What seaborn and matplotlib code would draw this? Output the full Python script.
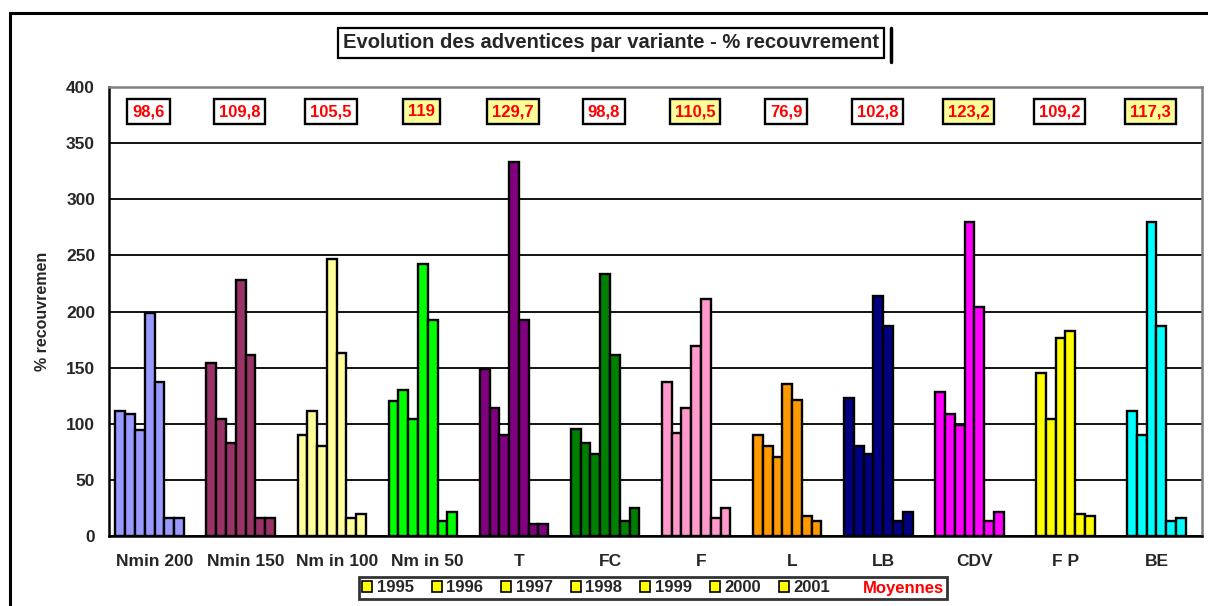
import matplotlib
matplotlib.use("Agg")
import matplotlib.pyplot as plt
import numpy as np
import pandas as pd
import seaborn as sns
from matplotlib.patches import Patch, Rectangle
from matplotlib.lines import Line2D

variantes = ["Nmin 200", "Nmin 150", "Nm in 100", "Nm in 50", "T", "FC",
             "F", "L", "LB", "CDV", "F P", "BE"]
annees = ["1995", "1996", "1997", "1998", "1999", "2000", "2001"]

# % recouvrement par variante, une liste par annee (nan = pas de mesure)
v1995 = [111, 154, 90, 120, 149, 95, 137, 90, 123, 128, np.nan, np.nan]
v1996 = [109, 104, 111, 130, 114, 83, 92, 80, 80, 109, 145, 111]
v1997 = [94, 83, 80, 104, 90, 73, 114, 70, 73, 99, 104, 90]
v1998 = [199, 228, 247, 242, 333, 233, 169, 135, 214, 280, 176, 280]
v1999 = [137, 161, 163, 192, 192, 161, 211, 121, 187, 204, 183, 187]
v2000 = [16, 16, 16, 13, 11, 13, 16, 18, 13, 13, 20, 13]
v2001 = [16, 16, 20, 21, 11, 25, 25, 13, 21, 21, 18, 16]

moyennes = ["98,6", "109,8", "105,5", "119", "129,7", "98,8",
            "110,5", "76,9", "102,8", "123,2", "109,2", "117,3"]
moy_surlignee = [False, False, False, True, True, False,
                 True, False, False, True, False, True]

couleurs = ["#9999FF", "#993366", "#FFFF99", "#00FF00", "#800080", "#008000",
            "#FF99CC", "#FF9900", "#000080", "#FF00FF", "#FFFF00", "#00FFFF"]

series = [v1995, v1996, v1997, v1998, v1999, v2000, v2001]
rows = []
for an, vals in zip(annees, series):
    for var, v in zip(variantes, vals):
        if not np.isnan(v):
            rows.append({"variante": var, "annee": an, "val": v})
df = pd.DataFrame(rows)

sns.set_style("white")
plt.rcParams["font.family"] = ["Liberation Sans", "DejaVu Sans"]
plt.rcParams["font.weight"] = "bold"

fig = plt.figure(figsize=(12.08, 6.06), dpi=100)
ax = fig.add_axes([109 / 1208, 1 - 536 / 606, 1093 / 1208, 449 / 606])

hue_order = annees + ["Moyennes"]  # slot vide pour la serie des moyennes
sns.barplot(data=df, x="variante", y="val", hue="annee", order=variantes,
            hue_order=hue_order, palette=["#cccccc"] * 8, width=0.86,
            errorbar=None, edgecolor="black", linewidth=1.7, legend=False,
            ax=ax)

for p in ax.patches:
    idx = int(round(p.get_x() + p.get_width() / 2))
    p.set_facecolor(couleurs[idx])

ax.set_xlim(-0.5, 11.5)
ax.set_ylim(0, 400)
ax.set_yticks(range(0, 401, 50))
ax.yaxis.grid(True, color="black", lw=1.3)
ax.set_axisbelow(True)

for s in ["left", "bottom"]:
    ax.spines[s].set_color("black")
    ax.spines[s].set_linewidth(1.8)
for s in ["top", "right"]:
    ax.spines[s].set_color("#808080")
    ax.spines[s].set_linewidth(1.8)

ax.set_xticks(range(12))
ax.set_xticklabels(variantes, fontsize=12.5, fontweight="bold")
ax.set_xticks(np.arange(-0.5, 12, 1), minor=True)
ax.tick_params(axis="x", which="major", length=0, pad=13)
ax.tick_params(axis="x", which="minor", length=5, width=1.6, direction="out",
               color="black")
ax.tick_params(axis="y", length=6, width=1.6, direction="out", pad=4,
               labelsize=12.5, color="black")
for t in ax.get_yticklabels():
    t.set_fontweight("bold")

ax.set_xlabel("")
ax.set_ylabel("% recouvremen", fontsize=11.5, fontweight="bold")
ax.yaxis.set_label_coords(-0.054, 0.5)

for i, (txt, hl) in enumerate(zip(moyennes, moy_surlignee)):
    ax.text(i - 0.065, 378, txt, ha="center", va="center", color="red",
            fontsize=12, fontweight="bold",
            bbox=dict(boxstyle="square,pad=0.3",
                      fc="#FFFF99" if hl else "white", ec="black", lw=1.7))

# titre encadre
fig.text(611 / 1208, 1 - 43 / 606,
         "Evolution des adventices par variante - % recouvrement",
         ha="center", va="center", fontsize=14.5, fontweight="bold",
         bbox=dict(boxstyle="square,pad=0.25", fc="white", ec="black", lw=1.6))
# ombre du cadre de titre
fig.add_artist(Line2D([891 / 1208, 891 / 1208], [1 - 28 / 606, 1 - 62 / 606],
                      transform=fig.transFigure, color="black", lw=2.5))

# cadre exterieur du graphique
fig.patches.append(Rectangle((10 / 1208, -0.1), 1.2, 1.1 - 13 / 606,
                             transform=fig.transFigure, fill=False,
                             ec="black", lw=2.2))

handles = [Patch(fc="#FFFF00", ec="black", lw=1.2) for _ in annees]
handles.append(Patch(fc="none", ec="none"))
leg = fig.legend(handles, annees + ["Moyennes"], loc="center", ncol=8,
                 bbox_to_anchor=(653 / 1208, 1 - 588 / 606), fontsize=12,
                 frameon=True, fancybox=False, edgecolor="black",
                 handlelength=0.6, handleheight=0.6, handletextpad=0.25,
                 columnspacing=1.1, borderpad=0.2)
leg.get_frame().set_linewidth(2)
leg.get_texts()[-1].set_color("red")
for t in leg.get_texts():
    t.set_fontweight("bold")

fig.savefig("out.png", dpi=100)
